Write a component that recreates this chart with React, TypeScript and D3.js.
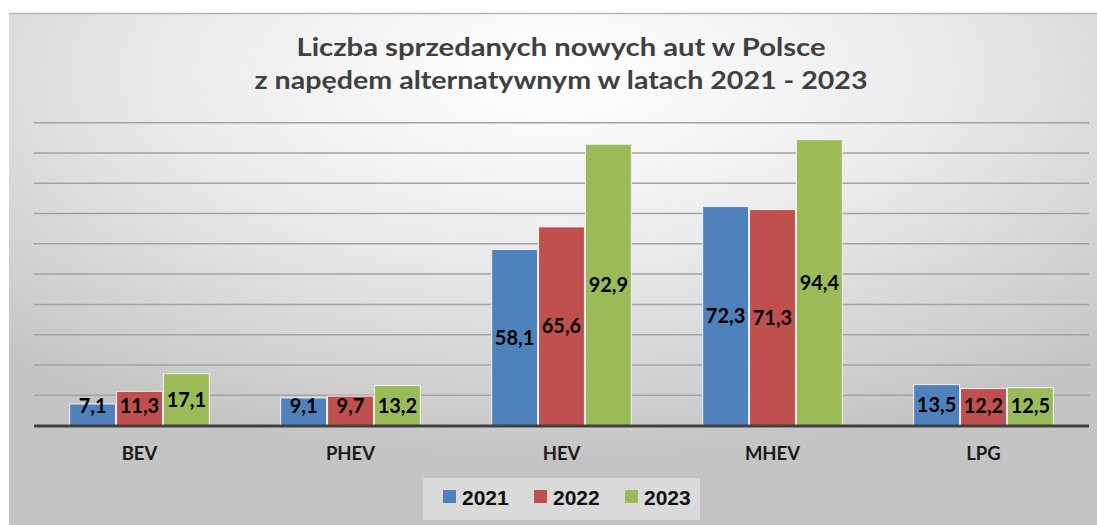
import React from "react";
import * as d3 from "d3";

const categories = ["BEV", "PHEV", "HEV", "MHEV", "LPG"];
const years = ["2021", "2022", "2023"];
const values2021 = [7.1, 9.1, 58.1, 72.3, 13.5];
const values2022 = [11.3, 9.7, 65.6, 71.3, 12.2];
const values2023 = [17.1, 13.2, 92.9, 94.4, 12.5];
const yTicks = [10, 20, 30, 40, 50, 60, 70, 80, 90, 100];
const titleLines = [
  "Liczba sprzedanych nowych aut w Polsce",
  "z napędem alternatywnym w latach 2021 - 2023",
];

const colors = ["#4f81bd", "#c0504d", "#9bbb59"];
const seriesValues = [values2021, values2022, values2023];

const W = 1097;
const H = 525;
const FONT = "Lato, 'Noto Sans', sans-serif";

export default function App() {
  const plotLeft = 34;
  const plotRight = 1089;
  const baseline = 425.5;
  const top = 122.7;

  const x0 = d3
    .scaleBand<string>()
    .domain(categories)
    .range([plotLeft, plotRight])
    .paddingInner(1 / 3)
    .paddingOuter(1 / 6);
  const x1 = d3
    .scaleBand<string>()
    .domain(years)
    .range([0, x0.bandwidth()]);
  const y = d3.scaleLinear().domain([0, 100]).range([baseline, top]);

  const fmt = (v: number) => v.toFixed(1).replace(".", ",");

  const legendItems = years.map((yr, i) => ({ yr, color: colors[i], x: 443 + i * 91 }));
  const titleWidths = [529, 613];

  return (
    <svg
      width={W}
      height={H}
      style={{ position: "absolute", left: 0, top: 0 }}
      xmlns="http://www.w3.org/2000/svg"
    >
      <defs>
        <radialGradient id="bg" cx="0.5" cy="0.12" r="0.75" fx="0.5" fy="0.12">
          <stop offset="0" stopColor="#ffffff" />
          <stop offset="0.45" stopColor="#ececec" />
          <stop offset="1" stopColor="#c4c4c4" />
        </radialGradient>
      </defs>
      <rect x={0} y={0} width={W} height={H} fill="#ffffff" />
      <rect x={9} y={13} width={W - 9} height={H - 13} fill="url(#bg)" />
      <line x1={9} x2={W} y1={13.5} y2={13.5} stroke="#b5b5b5" strokeWidth={1.5} />

      {titleLines.map((t, i) => (
        <text
          key={i}
          x={561}
          y={56 + i * 33}
          textAnchor="middle"
          fontFamily={FONT}
          fontWeight={700}
          fontSize={25}
          fill="#404040"
          textLength={titleWidths[i]}
          lengthAdjust="spacingAndGlyphs"
        >
          {t}
        </text>
      ))}

      {yTicks.map((t) => (
        <line
          key={t}
          x1={plotLeft}
          x2={plotRight}
          y1={y(t)}
          y2={y(t)}
          stroke="#a3a3a3"
          strokeWidth={1.5}
        />
      ))}

      {categories.map((c, ci) => (
        <g key={c} transform={`translate(${x0(c)},0)`}>
          {years.map((yr, si) => {
            const v = seriesValues[si][ci];
            const bx = x1(yr)!;
            const by = y(v);
            const bh = baseline - by;
            const center = by + bh / 2;
            const ly = Math.min(center, baseline - 20);
            return (
              <g key={yr}>
                <rect
                  x={bx + 0.5}
                  y={by}
                  width={x1.bandwidth() - 1}
                  height={bh}
                  fill={colors[si]}
                  stroke="#f2f2f2"
                  strokeWidth={1}
                />
                <text
                  x={bx + x1.bandwidth() / 2}
                  y={ly}
                  dy="0.36em"
                  textAnchor="middle"
                  fontFamily={FONT}
                  fontWeight={700}
                  fontSize={20}
                  fill="#000000"
                >
                  {fmt(v)}
                </text>
              </g>
            );
          })}
        </g>
      ))}

      <line
        x1={plotLeft}
        x2={plotRight}
        y1={baseline + 0.5}
        y2={baseline + 0.5}
        stroke="#404040"
        strokeWidth={3}
      />

      {categories.map((c) => (
        <text
          key={c}
          x={x0(c)! + x0.bandwidth() / 2}
          y={453}
          dy="0.36em"
          textAnchor="middle"
          fontFamily={FONT}
          fontWeight={700}
          fontSize={18.5}
          fill="#1a1a1a"
        >
          {c}
        </text>
      ))}

      <rect x={423} y={478} width={277} height={42} fill="#e4e4e4" opacity={0.7} />
      {legendItems.map((it) => (
        <g key={it.yr}>
          <rect x={it.x} y={490} width={13} height={13} fill={it.color} />
          <text
            x={it.x + 19}
            y={497}
            dy="0.36em"
            fontFamily="'Liberation Sans', Arial, sans-serif"
            fontWeight={700}
            fontSize={21}
            fill="#111111"
          >
            {it.yr}
          </text>
        </g>
      ))}
    </svg>
  );
}
